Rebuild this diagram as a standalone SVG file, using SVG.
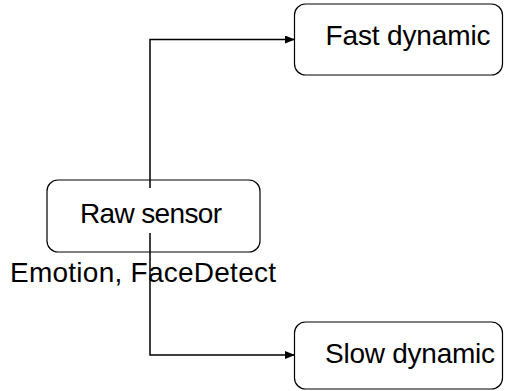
<svg xmlns="http://www.w3.org/2000/svg" width="510" height="391" viewBox="0 0 510 391">
<defs>
<style>
.box{fill:#fff;stroke:#000;stroke-width:1.2}
.lbl{font-family:"Liberation Sans",Arial,sans-serif;font-size:28px;fill:#000}
.edge{fill:none;stroke:#000;stroke-width:1.5}
</style>
<marker id="ah" viewBox="0 0 10 8" refX="10" refY="4" markerWidth="10" markerHeight="8" markerUnits="userSpaceOnUse" orient="auto">
<path d="M0,0 L10,4 L0,8 Z" fill="#000"/>
</marker>
</defs>
<g id="fast">
<rect class="box" x="294.5" y="4" width="208" height="71" rx="11"/>
<text class="lbl" x="408" y="45" text-anchor="middle" textLength="165">Fast dynamic</text>
</g>
<g id="slow">
<rect class="box" x="294.5" y="322" width="208" height="67" rx="11"/>
<text class="lbl" x="410" y="363" text-anchor="middle" textLength="170">Slow dynamic</text>
</g>
<g id="raw">
<rect class="box" x="47" y="180" width="213" height="72" rx="11"/>
</g>
<g id="connectors">
<path class="edge" d="M150,216 V39.5 H295" marker-end="url(#ah)"/>
<path class="edge" d="M150,216 V355 H295" marker-end="url(#ah)"/>
</g>
<g id="raw-label">
<rect x="60" y="188" width="185" height="45" fill="#fff"/>
<text class="lbl" x="151" y="223" text-anchor="middle" textLength="142">Raw sensor</text>
</g>
<text class="lbl" x="143" y="282" text-anchor="middle" textLength="266">Emotion, FaceDetect</text>
</svg>
